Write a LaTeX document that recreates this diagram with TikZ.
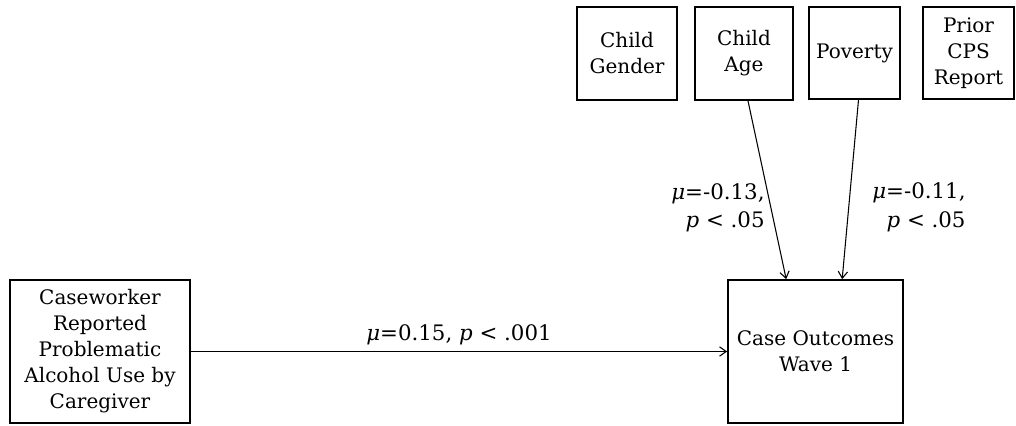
\documentclass[tikz,border=0pt]{standalone}
\usepackage{fontspec}
\setmainfont{DejaVu Serif}
\usetikzlibrary{arrows.meta, positioning}

\tikzset{
  varbox/.style={draw, line width=1.3pt, align=center, inner sep=2pt, font=\fontsize{15}{19.5}\selectfont},
  path/.style={line width=0.8pt, -{Straight Barb[length=5pt,width=7pt]}},
  coef/.style={font=\fontsize{16}{21.5}\selectfont, align=right}
}

\begin{document}
\begin{tikzpicture}[x=0.75pt, y=0.75pt]
\useasboundingbox (0,0) rectangle (1016,425);

% covariates
\node[varbox, minimum width=100*0.75pt, minimum height=93*0.75pt] (gender) at (627,371.5) {Child\\Gender};
\node[varbox, minimum width=98*0.75pt, minimum height=93*0.75pt] (age) at (744,371.5) {Child\\Age};
\node[varbox, minimum width=91*0.75pt, minimum height=92*0.75pt] (poverty) at (854.5,372) {Poverty};
\node[varbox, minimum width=91*0.75pt, minimum height=92*0.75pt] (prior) at (968.5,372) {Prior\\CPS\\Report};

% predictor and outcome
\node[varbox, minimum width=180*0.75pt, minimum height=143*0.75pt] (alcohol) at (100,73.5) {Caseworker\\Reported\\Problematic\\Alcohol Use by\\Caregiver};
\node[varbox, minimum width=175*0.75pt, minimum height=143*0.75pt] (outcome) at (815.5,73.5) {Case Outcomes\\Wave 1};

% paths
\draw[path] (alcohol) -- (outcome) node[midway, above=1pt, coef] {\textit{μ}=0.15, \textit{p} < .001};
\draw[path] ([xshift=3pt]age.south) -- ([xshift=-22pt]outcome.north)
  node[pos=0.6, left=1pt, coef] {\textit{μ}=-0.13,\\\textit{p} < .05};
\draw[path] ([xshift=3pt]poverty.south) -- ([xshift=20pt]outcome.north)
  node[pos=0.6, right=14pt, coef] {\textit{μ}=-0.11,\\\textit{p} < .05};

\end{tikzpicture}
\end{document}
